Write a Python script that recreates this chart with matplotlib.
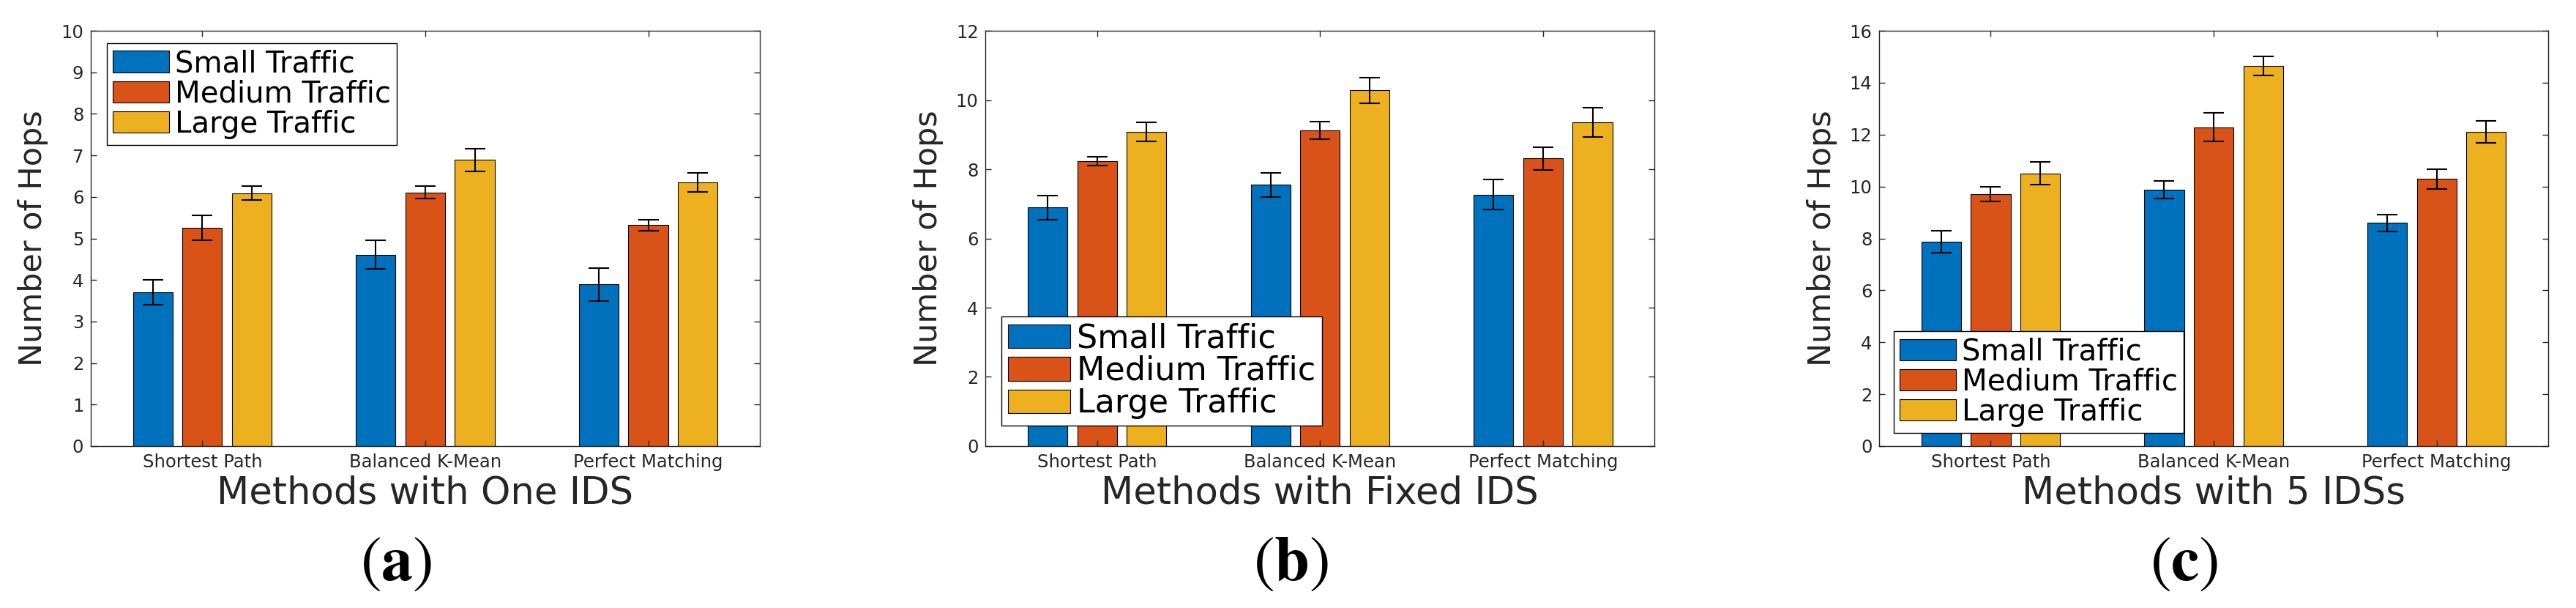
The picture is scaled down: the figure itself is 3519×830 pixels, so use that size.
import numpy as np
import matplotlib.pyplot as plt

# ---------------- Data ----------------
methods = ['Shortest Path', 'Balanced K-Mean', 'Perfect Matching']
traffic = ['Small Traffic', 'Medium Traffic', 'Large Traffic']

# (a) Methods with One IDS
one_small = [3.70, 4.61, 3.89]
one_small_err = [0.30, 0.35, 0.40]
one_medium = [5.25, 6.11, 5.32]
one_medium_err = [0.30, 0.15, 0.13]
one_large = [6.09, 6.89, 6.35]
one_large_err = [0.17, 0.27, 0.23]

# (b) Methods with Fixed IDS
fixed_small = [6.89, 7.55, 7.27]
fixed_small_err = [0.34, 0.35, 0.43]
fixed_medium = [8.24, 9.12, 8.31]
fixed_medium_err = [0.13, 0.26, 0.33]
fixed_large = [9.08, 10.28, 9.35]
fixed_large_err = [0.27, 0.37, 0.42]

# (c) Methods with 5 IDSs
five_small = [7.88, 9.87, 8.60]
five_small_err = [0.43, 0.34, 0.33]
five_medium = [9.72, 12.29, 10.29]
five_medium_err = [0.28, 0.54, 0.39]
five_large = [10.51, 14.65, 12.10]
five_large_err = [0.44, 0.36, 0.42]

colors = ['#0072BD', '#D95319', '#EDB120']
text_color = '#262626'

# ---------------- Figure layout ----------------
fig = plt.figure(figsize=(35.19, 8.3), dpi=100)
ax_w, ax_h, ax_b = 0.2597, 0.683, 0.2663
lefts = [0.03524, 0.3826, 0.7295]

panels = [
    dict(means=[one_small, one_medium, one_large],
         errs=[one_small_err, one_medium_err, one_large_err],
         ymax=10, ystep=1, xlabel='Methods with One IDS', tag='a',
         leg_loc='upper left', leg_anchor=(0.024, 0.970), leg_size=29),
    dict(means=[fixed_small, fixed_medium, fixed_large],
         errs=[fixed_small_err, fixed_medium_err, fixed_large_err],
         ymax=12, ystep=2, xlabel='Methods with Fixed IDS', tag='b',
         leg_loc='lower left', leg_anchor=(0.024, 0.049), leg_size=32),
    dict(means=[five_small, five_medium, five_large],
         errs=[five_small_err, five_medium_err, five_large_err],
         ymax=16, ystep=2, xlabel='Methods with 5 IDSs', tag='c',
         leg_loc='lower left', leg_anchor=(0.022, 0.032), leg_size=29),
]

x = np.arange(1, len(methods) + 1)
offsets = [-0.222, 0.0, 0.222]
bar_w = 0.178

for left, p in zip(lefts, panels):
    ax = fig.add_axes([left, ax_b, ax_w, ax_h])

    # grouped bars with error bars
    for i in range(3):
        ax.bar(x + offsets[i], p['means'][i], bar_w, color=colors[i],
               edgecolor='black', linewidth=0.8, label=traffic[i], zorder=1)
        ax.errorbar(x + offsets[i], p['means'][i], yerr=p['errs'][i],
                    fmt='none', ecolor='black', elinewidth=1.5,
                    capsize=10, capthick=1.5, zorder=3)

    ax.set_xlim(0.5, 3.5)
    ax.set_ylim(0, p['ymax'])
    ax.set_yticks(np.arange(0, p['ymax'] + 0.1, p['ystep']))
    ax.set_xticks(x)
    ax.set_xticklabels(methods)

    ax.tick_params(direction='in', top=True, right=True, length=6,
                   width=1, labelsize=17.5, labelcolor=text_color,
                   colors=text_color, pad=7)
    for s in ax.spines.values():
        s.set_color(text_color)
        s.set_linewidth(1.0)

    ax.set_ylabel('Number of Hops', fontsize=31, color=text_color)
    ax.yaxis.set_label_coords(-0.063, 0.5)
    ax.set_xlabel(p['xlabel'], fontsize=37, color=text_color)
    ax.xaxis.set_label_coords(0.5, -0.07)

    leg = ax.legend(loc=p['leg_loc'], bbox_to_anchor=p['leg_anchor'],
                    borderaxespad=0, fontsize=p['leg_size'], fancybox=False,
                    framealpha=1, edgecolor='black', borderpad=0.2,
                    labelspacing=0.03, handlelength=1.9, handleheight=0.75,
                    handletextpad=0.2)
    leg.get_frame().set_linewidth(1.0)

    # panel caption
    fig.text(left + ax_w / 2 - 40 / 3519, 0.075, r'$(\mathbf{' + p['tag'] + r'})$',
             fontsize=62, ha='center', va='center',
             math_fontfamily='stix')

fig.savefig('out.png', dpi=100)
